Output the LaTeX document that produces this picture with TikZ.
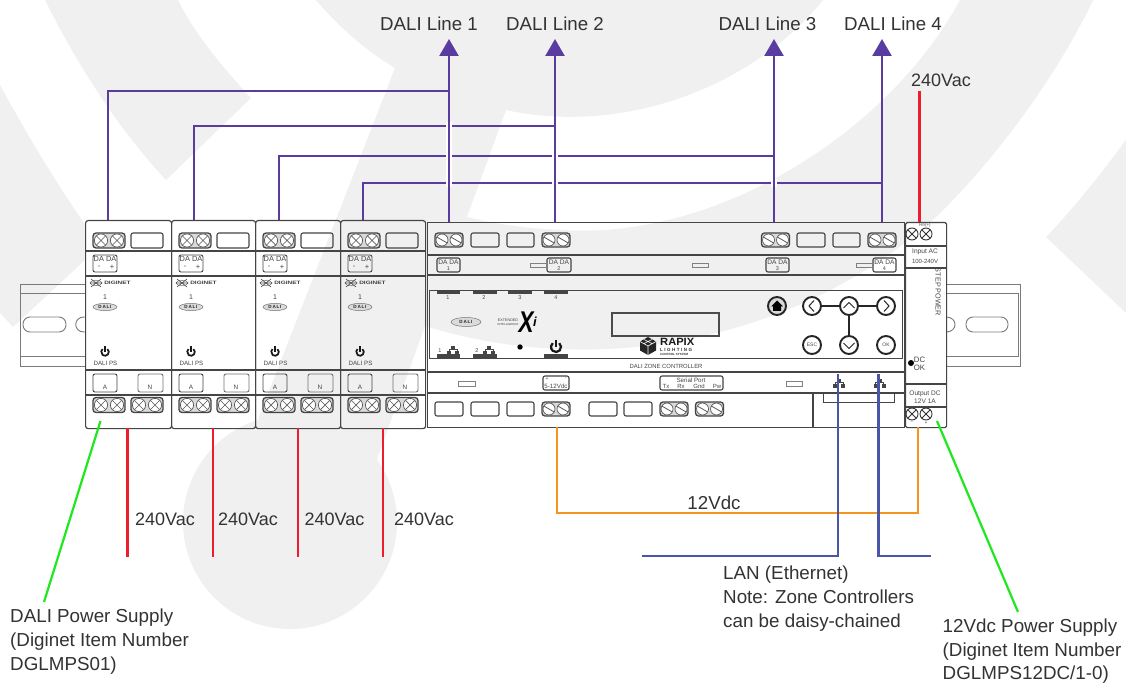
\documentclass[tikz,border=0pt]{standalone}
\usepackage{fontspec}
\setmainfont{Liberation Sans}
\usetikzlibrary{arrows.meta,shapes.geometric}
\definecolor{wm}{HTML}{F0F0F0}
\definecolor{dali}{HTML}{5A3CA0}
\definecolor{acred}{HTML}{ED1C2E}
\definecolor{dcor}{HTML}{F7941D}
\definecolor{lan}{HTML}{4A55A8}
\definecolor{grn}{HTML}{1FE81F}
\definecolor{ink}{HTML}{333333}
\definecolor{dev}{HTML}{454545}
\newcommand{\fsz}[1]{\fontsize{#1}{#1}\selectfont}
\tikzset{
  x=1pt,y=-1pt,
  lbl/.style={inner sep=0pt,text=ink,font=\fsz{18.7}},
  blk/.style={inner sep=0pt,anchor=west,align=left,text=ink,font=\fontsize{18.8}{24}\selectfont},
  tiny/.style={inner sep=0pt,text=dev,font=\fsz{#1}},
  tiny/.default=7,
  dalil/.style={draw=dali,line width=2.4pt},
  dalia/.style={dalil,-{Triangle[width=19pt,length=17pt]}},
  gap/.style={draw=white,line width=6pt},
  redl/.style={draw=acred,line width=2.2pt},
  orl/.style={draw=dcor,line width=2.2pt},
  lanl/.style={draw=lan,line width=2.6pt},
  grl/.style={draw=grn,line width=2.2pt},
  modbox/.style={draw=dev,line width=1.2pt,rounded corners=2.5pt,minimum height=208pt,anchor=north west,inner sep=0pt},
  sbox/.style={draw=dev,line width=1.1pt,rounded corners=2pt},
  div/.style={draw=dev,line width=1.2pt},
  rail/.style={draw=black!52,line width=.9pt},
  btn/.style={circle,draw=black!85,fill=white,line width=1.9pt,minimum size=18pt,inner sep=0pt,font=\fsz{5},text=dev},
  pics/termx/.style={code={
    \draw[draw=dev,fill=black!15,line width=1.3pt,rounded corners=3pt] (-16,-7.5) rectangle (16,7.5);
    \foreach \c in {-8,8}{\draw[black!65,fill=white,line width=.7pt] (\c,0) circle[radius=6.6];
      \draw[black!65,line width=.7pt] (\c-4.6,-4.6)--(\c+4.6,4.6) (\c-4.6,4.6)--(\c+4.6,-4.6);}
  }},
  pics/terms/.style={code={
    \draw[draw=dev,fill=black!15,line width=1.3pt,rounded corners=3pt] (-14,-7) rectangle (14,7);
    \foreach \c in {-7,7}{\draw[black!65,fill=white,line width=.7pt] (\c,0) circle[radius=6];
      \draw[black!65,line width=.8pt] (\c-5.2,-3)--(\c+5.2,3);}
  }},
  pics/pwr/.style={code={
    \draw[black!90,line width=#1*.45pt] (-50:#1) arc[start angle=-50,end angle=230,radius=#1];
    \draw[black!90,line width=#1*.45pt] (0,-#1*1.45)--(0,0);
  }},
  pics/rj/.style={code={
    \fill[dev] (-2,-4.5) rectangle (2,-1);
    \fill[dev] (-6,1) rectangle (-2,5);
    \fill[dev] (2,1) rectangle (6,5);
    \draw[dev,line width=.7pt] (-4,1)--(-4,-.5)--(4,-.5)--(4,1);
  }},
  pics/dalilogo/.style={code={
    \draw[black!55,fill=black!14,line width=.5pt] (0,0) ellipse[x radius=#1*.5,y radius=#1*.15];
    \node[inner sep=0pt,font=\bfseries\fsz{4.6},text=black!85] at (0,0) {D\,A\,L\,I};
  }},
  pics/digi/.style={code={
    \draw[black!70,line width=.6pt] (-5,-4)--(5,4) (-5,4)--(5,-4) (-6,0)--(6,0);
    \draw[black!70,line width=.4pt] (0,0) ellipse[x radius=6,y radius=2.6];
    \node[inner sep=0pt,font=\bfseries\fsz{4.8},text=black!75,xscale=1.35,anchor=west] at (8,0) {DIGINET};
  }}
}
\begin{document}
\begin{tikzpicture}
\useasboundingbox (0,0) rectangle (1126,684);
\fill[white] (0,0) rectangle (1126,684);
% watermark
\fill[wm] (45,0) -- (178,0) .. controls (195,35) and (225,70) .. (251,98) -- (166,180) .. controls (115,125) and (75,60) .. cycle;
\fill[wm] (0,85) .. controls (30,140) and (60,190) .. (100,246) -- (13,327) -- (0,313) -- cycle;
\fill[wm] (290,522) circle[radius=107];
\fill[wm] (316,0) .. controls (340,28) and (365,50) .. (395,68) -- (250,440) -- (377,459)
  -- (425,326) .. controls (600,380) and (800,340) .. (936,217) .. controls (1000,155) and (1060,70) .. (1093,0)
  -- (960,0) .. controls (890,130) and (720,240) .. (563,230) .. controls (530,229) and (495,224) .. (467,217)
  -- (506,110) .. controls (620,135) and (750,90) .. (823,0) -- cycle;
\fill[wm] (1126,140) .. controls (1100,175) and (1075,207) .. (1046,237) -- (1126,313) -- cycle;
% rail
\draw[rail] (85,284) -- (20,284) -- (20,366) -- (85,366) (20,293) -- (85,293) (20,356) -- (85,356);
\draw[rail,rounded corners=7pt] (23,317) rectangle (66,332);
\draw[rail] (85,317) -- (84,317) .. controls (73,317) and (73,332) .. (84,332) -- (85,332);
\draw[rail] (946,284) -- (1020,284) -- (1020,366) -- (946,366) (946,293) -- (1018,293) -- (1018,356) -- (946,356);
\draw[rail,rounded corners=7pt] (966,317) rectangle (1008,332);
\draw[rail] (946,317) .. controls (958,317) and (958,332) .. (946,332);
% power supply modules
\fill[white] (85,220) rectangle (171,428);
\foreach \n/\x/\w in {1/85/86,2/171/84,3/255/85,4/340/85}{
  \node[modbox,minimum width=\w pt] (m\n) at (\x,220) {};
  \draw[div] (\x,251) -- (\x+\w,251) (\x,276) -- (\x+\w,276) (\x,370) -- (\x+\w,370) (\x,395) -- (\x+\w,395);
  \pic at (\x+24,240.5) {termx};
  \draw[sbox] (\x+46,233) rectangle (\x+78,248);
  \draw[sbox,line width=.9pt] (\x+8,255) rectangle (\x+32,272);
  \node[tiny=7.4] (da\n) at (\x+20,258.8) {DA DA};
  \node[tiny=7.5] (dm\n) at (\x+14,267.5) {-};
  \node[tiny=7.5] (dp\n) at (\x+27,267.5) {+};
  \pic at (\x+11,283) {digi};
  \node[tiny=7] (one\n) at (\x+20,297) {1};
  \pic at (\x+20,307) {dalilogo=24};
  \pic at (\x+20,352) {pwr=3.8};
  \node[tiny=6.2] (ps\n) at (\x+20.5,363.5) {DALI PS};
  \draw[sbox,line width=.9pt] (\x+8,374) rectangle (\x+32,392);
  \draw[sbox,line width=.9pt,draw=black!55] (\x+53,374) rectangle (\x+78,392);
  \node[tiny=6.4] (a\n) at (\x+20,387.5) {A};
  \node[tiny=6.4] (n\n) at (\x+65,387.5) {N};
  \pic at (\x+24,405) {termx};
  \pic at (\x+62,405) {termx};
}
% zone controller
\node[draw=dev,line width=1.3pt,minimum width=477pt,minimum height=205pt,anchor=north west,inner sep=0pt] (zc) at (427,222) {};
\draw[div] (427,255) -- (904,255) (427,275) -- (904,275) (427,372) -- (904,372) (427,393) -- (904,393);
\node[draw=dev,line width=1.1pt,minimum width=473pt,minimum height=68pt,anchor=north west,inner sep=0pt] (panel) at (429,290) {};
\foreach \c in {449,556,775.5,882}{\pic at (\c,240) {terms};}
\foreach \a/\b in {471/499,507/534,797/825,833/860}{\draw[sbox] (\a,233) rectangle (\b,247);}
\foreach \a/\b/\t/\m in {437/460/1/448.5,547/571/2/559,766/789/3/777.5,873/896/4/884.5}{
  \draw[sbox] (\a,258) rectangle (\b,272);
  \node[tiny=6.6] (zda\t) at (\m,262) {DA DA};
  \node[tiny=5.5] (zdn\t) at (\m,268.5) {\t};
}
\foreach \a/\b in {530/547,692/708,856/873}{\draw[black!50,line width=.7pt] (\a,263) rectangle (\b,267);}
\foreach \a/\b/\t/\m in {437/460/1/448,473/497/2/484,508/532/3/520,544/568/4/556}{
  \fill[dev] (\a,291) rectangle (\b,294);
  \node[tiny=5.5] (led\t) at (\m,298) {\t};
}
\foreach \a/\b in {437/460,473/497,544/568}{\fill[dev] (\a,354) rectangle (\b,358);}
\node[tiny=5.5] (n1l) at (440,351) {1};
\node[tiny=5.5] (n2l) at (477,351) {2};
\pic at (453,350) {rj};
\pic at (489,350) {rj};
\fill[black] (520,347) circle[radius=2.7];
\pic at (556,347) {pwr=5};
\pic at (466,322) {dalilogo=30};
\node[tiny=3.7] (ext) at (508,320) {EXTENDED};
\node[tiny=2.9] (intl) at (508,324.5) {INTELLIGENCE};
\node[inner sep=0pt,font=\bfseries\itshape\fsz{30},text=black,xscale=.75] (xx) at (526,322) {X};
\node[inner sep=0pt,font=\bfseries\itshape\fsz{13},text=black] (xi) at (535,322) {i};
\draw[black!70,line width=1.2pt] (612,313) rectangle (719,336);
% rapix logo
\fill[black!85] (648,337) -- (656,341.5) -- (656,350.5) -- (648,355) -- (640,350.5) -- (640,341.5) -- cycle;
\draw[white,line width=.6pt] (648,346) -- (648,355) (648,346) -- (640,341.5) (648,346) -- (656,341.5) (644,339.5) -- (652,343.5) (652,339.5) -- (644,343.5);
\node[inner sep=0pt,anchor=west,font=\bfseries\fsz{10.5},text=black!90,xscale=1.06] (rp) at (660,342) {RAPIX};
\node[inner sep=0pt,anchor=west,font=\bfseries\fsz{4.5},text=black!80] (rl) at (660,349.5) {L\,\,I\,\,G\,\,H\,\,T\,\,I\,\,N\,\,G};
\node[inner sep=0pt,anchor=west,font=\bfseries\fsz{3},text=black!80] (rc) at (660,354) {CONTROL SYSTEM};
\node[tiny=6,xscale=.98] (zcn) at (666,366) {DALI ZONE CONTROLLER};
% buttons
\node[btn] (bl) at (812,306) {};
\node[btn] (bu) at (849,306) {};
\node[btn] (br) at (886,306) {};
\node[btn] (bd) at (849,345) {};
\node[btn] (be) at (812,345) {ESC};
\node[btn] (bo) at (886,345) {OK};
\node[btn,fill=black!15] (bh) at (777,306) {};
\draw[black!85,line width=1.4pt] (bl) -- (bu) (bu) -- (br) (bu) -- (bd);
\draw[black!85,line width=1pt] (814,300.5) -- (809,306) -- (814,311.5) (843.5,308) -- (849,302.5) -- (854.5,308) (884,300.5) -- (889,306) -- (884,311.5) (843.5,343) -- (849,348.5) -- (854.5,343);
\fill[black] (777,300.5) -- (783,306.5) -- (781,306.5) -- (781,311) -- (773,311) -- (773,306.5) -- (771,306.5) -- cycle;
% lower band
\draw[black!50,line width=.7pt] (458,381) rectangle (475,386) (786,381) rectangle (802,386);
\draw[sbox] (543,376) rectangle (569,390);
\node[tiny=5] (pl) at (547,379) {+};
\node[tiny=5] (mi) at (566,379) {-};
\node[tiny=6.2] (v512) at (556,386) {5-12Vdc};
\draw[sbox] (660,376) rectangle (723,390);
\node[tiny=6.2] (ser) at (691,380.5) {Serial Port};
\node[tiny=6] (tx) at (666,386.5) {Tx};
\node[tiny=6] (rx) at (681,386.5) {Rx};
\node[tiny=6] (gn) at (699,386.5) {Gnd};
\node[tiny=6] (pw) at (717,386.5) {Pw};
\pic at (839,383) {rj};
\pic at (879.5,383) {rj};
\foreach \a/\b in {435/463,471/499,507/534,589/617,624/652}{\draw[sbox] (\a,402) rectangle (\b,416);}
\foreach \c in {556,674,709.5}{\pic at (\c,409) {terms};}
\draw[div] (813,393) -- (813,427);
\draw[div,line width=1pt] (823,393) -- (823,402) -- (894,402) -- (894,393);
% step power
\node[draw=dev,fill=white,line width=1.2pt,rounded corners=1.5pt,minimum width=41pt,minimum height=205pt,anchor=north west,inner sep=0pt] (sp) at (905,222) {};
\draw[div] (905,246) -- (946,246) (905,268) -- (946,268) (905,384) -- (946,384) (905,407) -- (946,407);
\foreach \c/\y in {912/234,926/234,912/414,926/414}{
  \draw[black!80,line width=.9pt] (\c,\y) circle[radius=6];
  \draw[black!80,line width=.9pt] (\c-4.2,\y-4.2) -- (\c+4.2,\y+4.2) (\c-4.2,\y+4.2) -- (\c+4.2,\y-4.2);
}
\node[tiny=4.5] (hn) at (925,225.5) {Hn(+)};
\node[tiny=6.6] (iac) at (925,252) {Input AC};
\node[tiny=6] (v240) at (925,261) {100-240V};
\node[tiny=7.2,rotate=-90] (spn) at (938,292) {STEP POWER};
\fill[black] (911,363) circle[radius=3];
\node[tiny=7.8] (dc) at (919.5,360.3) {DC};
\node[tiny=7.8] (ok) at (919.5,367.7) {OK};
\node[tiny=6.6] (odc) at (925,394) {Output DC};
\node[tiny=6.6] (o12) at (925,401.5) {12V 1A};
\node[tiny=5] (sm) at (912,423) {-};
\node[tiny=5] (sq) at (926,423) {+};
% coordinates
\coordinate (d1) at (108,220); \coordinate (d2) at (194,220); \coordinate (d3) at (279,220); \coordinate (d4) at (363,220);
\coordinate (z1) at (449,222); \coordinate (z2) at (555,222); \coordinate (z3) at (774,222); \coordinate (z4) at (882,222);
\coordinate (t1) at (449,39); \coordinate (t2) at (555,39); \coordinate (t3) at (774,39); \coordinate (t4) at (882,39);
\coordinate (j1) at (449,91); \coordinate (j2) at (555,126); \coordinate (j3) at (774,156); \coordinate (j4) at (882,183);
% DALI wiring
\draw[dalil] (d1) |- (j1);
\draw[dalil] (d2) |- (j2);
\draw[dalil] (d3) |- (j3);
\draw[dalil] (d4) |- (j4);
\draw[gap] (449,122) -- (449,187) (555,152) -- (555,187) (774,179) -- (774,187);
\draw[dalia] (z1) -- (t1);
\draw[dalia] (z2) -- (t2);
\draw[dalia] (z3) -- (t3);
\draw[dalia] (z4) -- (t4);
\node[lbl] (l1) at (429,24) {DALI Line 1};
\node[lbl] (l2) at (555,24) {DALI Line 2};
\node[lbl] (l3) at (767.5,24) {DALI Line 3};
\node[lbl] (l4) at (893,24) {DALI Line 4};
% mains
\coordinate (rt) at (919.5,91); \coordinate (rb) at (919.5,222);
\draw[redl] (rt) -- (rb);
\node[lbl,font=\fsz{18}] (vt) at (941,80) {240Vac};
\foreach \n/\x/\tx in {1/127.5/165,2/213/248,3/298/334.5,4/383/424}{
  \coordinate (ra\n) at (\x,428); \coordinate (rz\n) at (\x,557);
  \draw[redl] (ra\n) -- (rz\n);
  \node[lbl,font=\fsz{18}] (vb\n) at (\tx,519) {240Vac};
}
% 12 V
\coordinate (o1) at (557,427); \coordinate (o2) at (918,427); \coordinate (oc) at (918,513);
\draw[orl] (o1) |- (oc) -- (o2);
\node[lbl] (v12) at (714,503) {12Vdc};
% LAN
\coordinate (e1) at (838,374); \coordinate (e1a) at (642,556);
\coordinate (e2) at (878.6,374); \coordinate (e2a) at (931,556);
\draw[lanl] (e1) |- (e1a);
\draw[lanl] (e2) |- (e2a);
\node[blk] (lant) at (723,598.5) {LAN (Ethernet)\\Note: Zone Controllers\\can be daisy-chained};
% callouts
\coordinate (g1) at (100.5,421); \coordinate (g1e) at (44,602);
\coordinate (g2) at (937,421); \coordinate (g2e) at (1018,612);
\draw[grl] (g1) -- (g1e);
\draw[grl] (g2) -- (g2e);
\node[blk] (psl) at (10,641.5) {DALI Power Supply\\(Diginet Item Number\\DGLMPS01)};
\node[blk,font=\fontsize{18.8}{23.4}\selectfont] (psr) at (942.5,651.5) {12Vdc Power Supply\\(Diginet Item Number\\DGLMPS12DC/1-0)};
\end{tikzpicture}
\end{document}
